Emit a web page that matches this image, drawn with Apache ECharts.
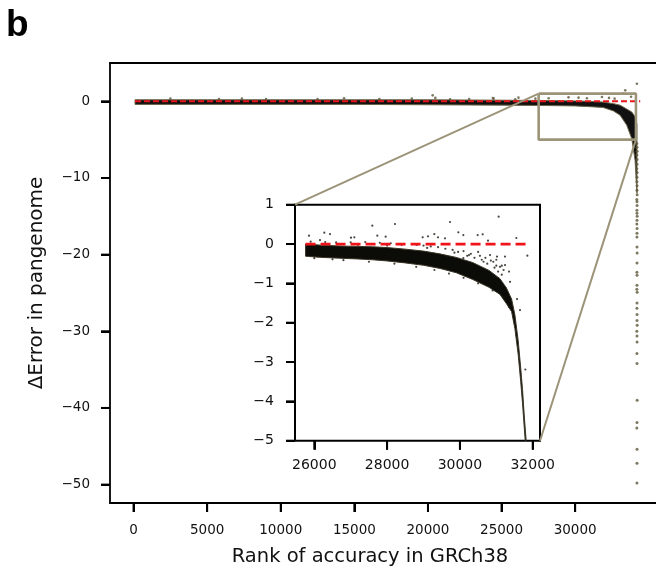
<!DOCTYPE html>
<html><head><meta charset="utf-8">
<script src="https://cdn.jsdelivr.net/npm/echarts@6/dist/echarts.min.js"></script>
<style>html,body{margin:0;padding:0;background:#fff}#c{width:656px;height:572px}</style>
</head><body><div id="c"></div>
<script>
// ---------- tick labels ----------
const mainXTicks = [0, 5000, 10000, 15000, 20000, 25000, 30000];
const mainYTicks = [0, -10, -20, -30, -40, -50];
const insetXTicks = [26000, 28000, 30000, 32000];
const insetYTicks = [1, 0, -1, -2, -3, -4, -5];

// ---------- main panel: dense band of points (envelope) ----------
const mainBandRank  = [100, 5000, 10000, 15000, 20000, 25000, 28000, 30000, 31000, 31900, 32600, 33050, 33500, 33850, 34070, 34200];
const mainBandUpper = [0.2, 0.2, 0.2, 0.2, 0.2, 0.15, 0.1, 0.05, 0, -0.1, -0.3, -0.5, -1.0, -1.4, -2.0, -3.0];
const mainBandLower = [-0.4, -0.4, -0.4, -0.4, -0.45, -0.5, -0.55, -0.6, -0.7, -0.8, -1.25, -1.8, -3.1, -4.9, -7.7, -12];

// main panel: outliers above the band
const mainOutlierRank = [2500, 5800, 7360, 9000, 12500, 14300, 16700, 18900, 20320, 20500, 21500, 22800, 24410, 24460, 25930, 26150, 27300, 28200, 29550, 30230, 30800, 31820, 32300, 32680, 33245, 33400, 33800, 34196];
const mainOutlierErr  = [0.35, 0.3, 0.35, 0.3, 0.3, 0.4, 0.3, 0.35, 0.78, 0.45, 0.26, 0.3, 0.43, 0.35, 0.26, 0.48, 0.35, 0.4, 0.52, 0.48, 0.4, 0.56, 0.45, 0.35, 1.0, 1.43, 0.6, 2.3];

// main panel: steep tail
const mainTailRank = [34190, 34200, 34210, 34195, 34205, 34200, 34190, 34210, 34200, 34195, 34205, 34200, 34210, 34190, 34200, 34205, 34195, 34200, 34210, 34200, 34190, 34205, 34200, 34195,
                      34200, 34210, 34200, 34195, 34205, 34200, 34190, 34210, 34200, 34195, 34205, 34200, 34210, 34190, 34200, 34205, 34195, 34200, 34210, 34200, 34190, 34205, 34200, 34195];
const mainTailErr  = [-5.5, -6.0, -6.5, -7.0, -7.6, -8.2, -8.8, -9.3, -9.9, -10.5, -11.0, -11.6, -12.2, -12.8, -13.1, -13.6, -14.2, -14.6, -15.0, -15.5, -16.0, -16.6, -17.2, -17.7,
                      -19.0, -19.8, -21.1, -22.3, -22.7, -24.0, -24.5, -24.9, -26.3, -27.0, -27.8, -28.6, -29.2, -30.0, -30.6, -31.4, -32.9, -34.2, -39.0, -41.9, -42.6, -45.4, -47.2, -49.8];

const mainZeroRank = [100, 34420];
const zoomBoxRank = [27520, 34130];
const zoomBoxErr  = [-5, 1];

// ---------- inset panel ----------
const insetBandRank  = [25760, 26200, 26700, 27200, 27600, 28000, 28500, 29000, 29450, 29900, 30350, 30800, 31100, 31280, 31420, 31510, 31600, 31670, 31720, 31770, 31820, 31860];
const insetBandUpper = [0.0, -0.03, -0.05, -0.06, -0.07, -0.09, -0.13, -0.18, -0.25, -0.34, -0.47, -0.67, -0.88, -1.12, -1.4, -1.8, -2.45, -3.15, -3.7, -4.4, -5.0, -5.3];
const insetBandLower = [-0.31, -0.34, -0.36, -0.38, -0.4, -0.43, -0.48, -0.54, -0.62, -0.73, -0.9, -1.1, -1.28, -1.52, -1.72, -2.15, -2.8, -3.5, -4.05, -4.7, -5.3, -5.3];

// isolated points away from the band
const insetOutlierRank = [25854, 26275, 26431, 26156, 27008, 27100, 27594, 27731, 27960, 28217, 28977, 29123, 29297, 29398, 29590, 29728, 29957, 30094, 30488, 30625, 30772, 31065, 31550,
                          31853, 31019, 31239, 31239, 31349, 31377, 31569, 31651, 31797, 30827, 30918, 31101, 29636, 30094, 28812, 30500, 30700, 31000, 31150];
const insetOutlierErr  = [0.212, 0.288, 0.254, 0.10, 0.161, 0.17, 0.466, 0.212, 0.187, 0.509, 0.17, 0.195, 0.254, 0.17, 0.144, 0.56, 0.297, 0.229, 0.229, 0.246, 0.085, 0.695, 0.153,
                          -0.297, -0.32, -0.32, -0.534, -0.70, -0.96, -1.40, -1.68, -3.19, -0.28, -0.45, -0.58, -0.32, -0.36, -0.025, -0.2, -0.35, -0.4, -0.55];

// loose points along the fuzzy edges of the band
const insetEdgeRank = [25900, 26300, 26600, 27000, 27400, 27800, 28100, 28400, 28700, 29000, 29200, 29400, 29600, 29800, 29950, 30100, 30200, 30300, 30400, 30550, 30650, 30750, 30850, 30950, 31050, 31150, 31200,
                       26000, 26500, 26800, 27500, 28200, 28800, 29300, 29700, 30100, 30500, 30900, 31200, 31350, 27200, 28000, 29100, 29850, 30250, 30600, 31000];
const insetEdgeErr  = [0.06, 0.05, 0.04, 0.04, 0.05, 0.03, 0.02, -0.02, 0.0, -0.04, -0.06, -0.08, -0.12, -0.15, -0.2, -0.18, -0.3, -0.25, -0.35, -0.3, -0.45, -0.5, -0.42, -0.6, -0.7, -0.78, -0.66,
                       -0.36, -0.39, -0.41, -0.45, -0.5, -0.58, -0.66, -0.75, -0.86, -1.0, -1.18, -1.36, -1.6, -0.02, -0.04, -0.1, -0.22, -0.28, -0.4, -0.55];

const insetZeroRank = [25760, 31900];

// ---------- chart ----------
const fmt = v => (v < 0 ? '\u2212' + Math.abs(v) : String(v));
const FONT = 'DejaVu Sans';
const chart = echarts.init(document.getElementById('c'), null, {renderer: 'canvas'});
const pairs = (xs, ys) => xs.map((x, i) => [x, ys[i]]);

function band(idx, ranks, up, lo, fill, stroke, sw, z) {
  return {
    type: 'custom', xAxisIndex: idx, yAxisIndex: idx, clip: true, silent: true, z: z,
    data: [[ranks[0], up[0]]],
    renderItem(params, api) {
      const pts = [];
      for (let i = 0; i < ranks.length; i++) pts.push(api.coord([ranks[i], up[i]]));
      for (let i = ranks.length - 1; i >= 0; i--) pts.push(api.coord([ranks[i], lo[i]]));
      return {type: 'polygon', shape: {points: pts}, style: {fill: fill, stroke: stroke, lineWidth: sw}};
    }
  };
}

function axis(idx, min, max, ticks, fs, margin, tlen, lineShow) {
  return {
    type: 'value', gridIndex: idx, min: min, max: max,
    axisLine: {show: lineShow, onZero: false, lineStyle: {color: '#000', width: 1.8}},
    splitLine: {show: false},
    axisTick: {show: true, length: tlen, customValues: ticks, lineStyle: {color: '#000', width: 2}},
    axisLabel: {customValues: ticks, formatter: fmt, color: '#111', fontFamily: FONT, fontSize: fs, margin: margin}
  };
}

const MAIN_XMIN = -1600, MAIN_XMAX = 35492, MAIN_YMIN = -52.4, MAIN_YMAX = 5;
const INS_XMIN = 25470, INS_XMAX = 32200, INS_YMIN = -5, INS_YMAX = 1;

const option = {
  animation: false,
  backgroundColor: '#fff',
  grid: [
    {left: 110, top: 63, right: 0, height: 440, show: false, containLabel: false},
    {left: 295, top: 204.7, width: 245, height: 236, show: true, borderColor: '#000', borderWidth: 2, backgroundColor: '#fff', containLabel: false, z: 5}
  ],
  xAxis: [
    axis(0, MAIN_XMIN, MAIN_XMAX, mainXTicks, 13.5, 20, 9, true),
    Object.assign(axis(1, INS_XMIN, INS_XMAX, insetXTicks, 14, 18, 9, false), {z: 6}),
    {type: 'value', gridIndex: 0, position: 'top', min: MAIN_XMIN, max: MAIN_XMAX,
      axisLine: {show: true, onZero: false, lineStyle: {color: '#000', width: 1.8}},
      axisTick: {show: false}, axisLabel: {show: false}, splitLine: {show: false}}
  ],
  yAxis: [
    axis(0, MAIN_YMIN, MAIN_YMAX, mainYTicks, 13.5, 20, 9, true),
    Object.assign(axis(1, INS_YMIN, INS_YMAX, insetYTicks, 14, 21, 9, false), {z: 6})
  ],
  series: [
    // main panel
    band(0, mainBandRank, mainBandUpper, mainBandLower, '#111', '#6b6448', 1, 2),
    {type: 'scatter', xAxisIndex: 0, yAxisIndex: 0, data: pairs(mainOutlierRank, mainOutlierErr), symbolSize: 2.6,
      itemStyle: {color: '#5c5639'}, silent: true, z: 2},
    {type: 'scatter', xAxisIndex: 0, yAxisIndex: 0, data: pairs(mainTailRank, mainTailErr), symbolSize: 3,
      itemStyle: {color: '#5c5639'}, silent: true, z: 2},
    {type: 'line', xAxisIndex: 0, yAxisIndex: 0, data: pairs(mainZeroRank, [0, 0]), symbol: 'none', silent: true, z: 3,
      lineStyle: {color: '#e8161b', width: 2, type: [6, 3]}},
    {type: 'line', xAxisIndex: 0, yAxisIndex: 0, symbol: 'none', silent: true, z: 4,
      data: [[zoomBoxRank[0], zoomBoxErr[1]], [zoomBoxRank[1], zoomBoxErr[1]], [zoomBoxRank[1], zoomBoxErr[0]], [zoomBoxRank[0], zoomBoxErr[0]], [zoomBoxRank[0], zoomBoxErr[1]]],
      lineStyle: {color: '#9c9478', width: 2.6}},
    // inset panel
    band(1, insetBandRank, insetBandUpper, insetBandLower, '#0b0b08', '#3a3626', 1, 7),
    {type: 'scatter', xAxisIndex: 1, yAxisIndex: 1, data: pairs(insetEdgeRank, insetEdgeErr), symbolSize: 2.2,
      itemStyle: {color: '#1c1a12'}, silent: true, z: 7},
    {type: 'scatter', xAxisIndex: 1, yAxisIndex: 1, data: pairs(insetOutlierRank, insetOutlierErr), symbolSize: 2.2,
      itemStyle: {color: '#1c1a12'}, silent: true, z: 7},
    {type: 'line', xAxisIndex: 1, yAxisIndex: 1, data: pairs(insetZeroRank, [0, 0]), symbol: 'none', silent: true, z: 8,
      lineStyle: {color: '#f0141a', width: 2.7, type: [10, 5]}}
  ]
};
chart.setOption(option);

const px = (g, p) => chart.convertToPixel({gridIndex: g}, p);
const a1 = px(0, [zoomBoxRank[0], zoomBoxErr[1]]);
const b1 = px(1, [INS_XMIN, INS_YMAX]);
const a2 = px(0, [zoomBoxRank[1], zoomBoxErr[0]]);
const b2 = px(1, [INS_XMAX, INS_YMIN]);

// tick marks placed through the axes' own scales (outward, 9px)
const tickEls = [];
const tickStyle = {stroke: '#000', lineWidth: 2};
mainXTicks.forEach(v => { const p = px(0, [v, MAIN_YMIN]); tickEls.push({type: 'line', z: 20, shape: {x1: p[0], y1: p[1], x2: p[0], y2: p[1] + 9}, style: tickStyle}); });
mainYTicks.forEach(v => { const p = px(0, [MAIN_XMIN, v]); tickEls.push({type: 'line', z: 20, shape: {x1: p[0], y1: p[1], x2: p[0] - 9, y2: p[1]}, style: tickStyle}); });
insetXTicks.forEach(v => { const p = px(1, [v, INS_YMIN]); tickEls.push({type: 'line', z: 20, shape: {x1: p[0], y1: p[1], x2: p[0], y2: p[1] + 9}, style: tickStyle}); });
insetYTicks.forEach(v => { const p = px(1, [INS_XMIN, v]); tickEls.push({type: 'line', z: 20, shape: {x1: p[0], y1: p[1], x2: p[0] - 9, y2: p[1]}, style: tickStyle}); });

chart.setOption({
  graphic: [
    {type: 'line', z: 10, shape: {x1: a1[0], y1: a1[1], x2: b1[0], y2: b1[1]}, style: {stroke: '#9c9478', lineWidth: 2}},
    {type: 'line', z: 10, shape: {x1: a2[0], y1: a2[1], x2: b2[0], y2: b2[1]}, style: {stroke: '#9c9478', lineWidth: 2}},
    {type: 'text', x: 6, y: 44.5, style: {text: 'b', font: 'bold 37px "Liberation Sans", Arial, sans-serif', fill: '#000', align: 'left', verticalAlign: 'bottom'}},
    {type: 'text', x: 370, y: 557, style: {text: 'Rank of accuracy in GRCh38', font: '19.5px "DejaVu Sans"', fill: '#111', align: 'center', verticalAlign: 'middle'}},
    {type: 'text', x: 37, y: 283, rotation: Math.PI / 2, style: {text: '\u0394Error in pangenome', font: '20px "DejaVu Sans"', fill: '#111', align: 'center', verticalAlign: 'middle'}}
  ].concat(tickEls)
});
</script></body></html>
